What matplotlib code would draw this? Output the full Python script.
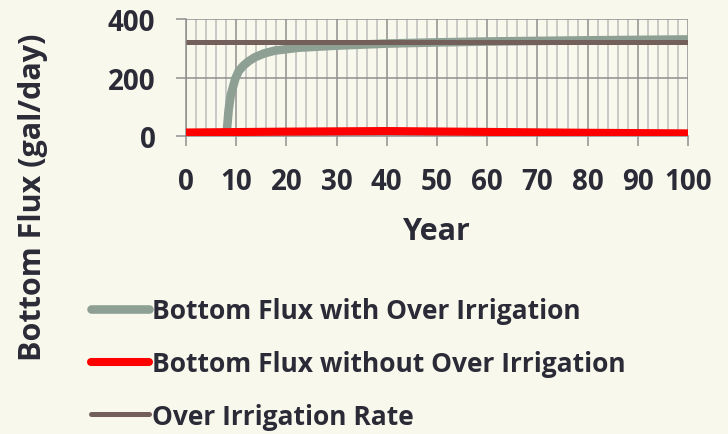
import matplotlib.pyplot as plt
from matplotlib.ticker import MultipleLocator

# data
years_with = [8, 8.2, 8.5, 8.9, 9.8, 10.5, 11.4, 12.5, 13.7, 15.5, 17.7, 22.5, 30, 40, 50, 60, 80, 100]
flux_with = [0, 30, 90, 138, 195, 222, 240, 256, 269, 282, 292, 302, 309, 316, 320, 323, 327, 330]

years_without = [0, 20, 40, 60, 80, 100]
flux_without = [12, 15, 17, 14, 11, 9]

years_rate = [0, 100]
rate = [323, 323]

bg = "#F8F8EC"
txt = "#2B2B38"

plt.rcParams['font.family'] = ['Open Sans', 'DejaVu Sans']
plt.rcParams['font.weight'] = 'bold'

fig = plt.figure(figsize=(7.28, 4.35), dpi=100, facecolor=bg)
ax = fig.add_axes([186 / 728, 1 - 137 / 435, 502 / 728, 117 / 435])
ax.set_facecolor(bg)

l1, = ax.plot(years_with, flux_with, color="#8DA093", lw=6.2, solid_capstyle="butt",
              solid_joinstyle="round", zorder=3, label="Bottom Flux with Over Irrigation")
l2, = ax.plot(years_without, flux_without, color="#FF0000", lw=5.8, solid_capstyle="butt",
              zorder=4, label="Bottom Flux without Over Irrigation")
l3, = ax.plot(years_rate, rate, color="#73605A", lw=3.6, solid_capstyle="butt",
              zorder=5, label="Over Irrigation Rate")

ax.set_xlim(0, 100)
ax.set_ylim(0, 400)
ax.xaxis.set_major_locator(MultipleLocator(10))
ax.xaxis.set_minor_locator(MultipleLocator(2))
ax.yaxis.set_major_locator(MultipleLocator(200))

ax.grid(which="major", axis="both", color="#8F8F8F", lw=1.1, zorder=1)
ax.grid(which="minor", axis="x", color="#BDBDBD", lw=1.1, zorder=1)
ax.tick_params(which="minor", length=0)
ax.tick_params(which="major", length=7, width=1.1, color="#8F8F8F", pad=15,
               labelsize=20, labelcolor=txt)
for s in ["top", "right"]:
    ax.spines[s].set_visible(False)
for s in ["left", "bottom"]:
    ax.spines[s].set_color("#8F8F8F")
    ax.spines[s].set_linewidth(1.1)

ax.set_xlabel("Year", fontsize=22, color=txt, labelpad=15, fontweight="bold")
fig.text(33 / 728, 1 - 197 / 435, "Bottom Flux (gal/day)", rotation=90, fontsize=22,
         color=txt, ha="center", va="center", fontweight="bold")

leg = fig.legend(handles=[l1, l2, l3], loc="upper left",
                 bbox_to_anchor=(91 / 728, 1 - 298 / 435), frameon=False,
                 prop={"size": 19, "weight": "bold"}, handlelength=2.2, handletextpad=0.12,
                 labelspacing=0.98, borderpad=0, borderaxespad=0)
for t in leg.get_texts():
    t.set_color(txt)
for h in leg.legend_handles:
    h.set_solid_capstyle("round")

fig.savefig("out.png", dpi=100, facecolor=bg)
